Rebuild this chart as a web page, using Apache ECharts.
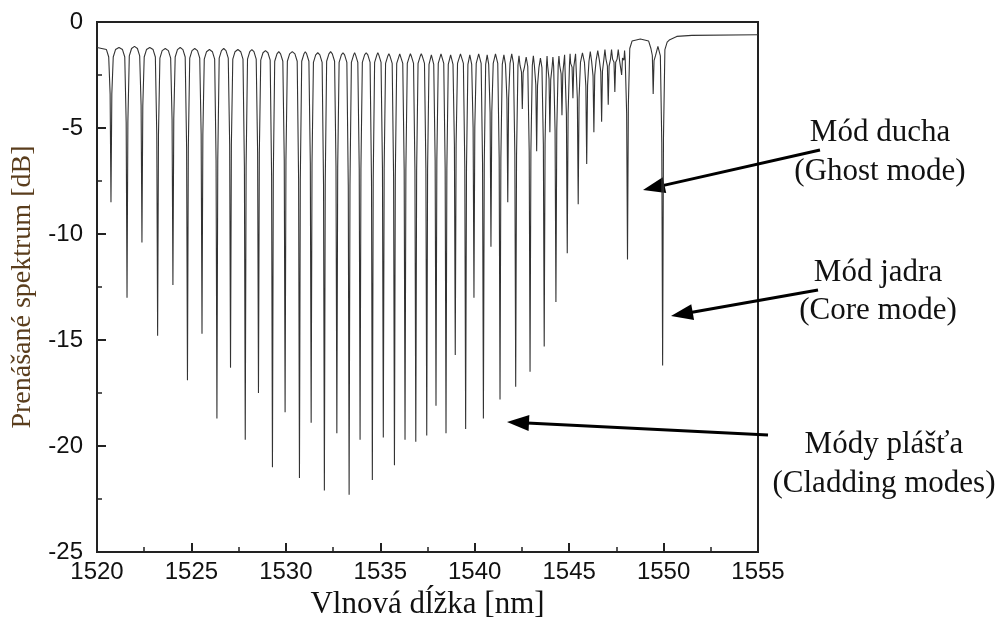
<!DOCTYPE html>
<html>
<head>
<meta charset="utf-8">
<title>Prenášané spektrum</title>
<script src="https://cdn.jsdelivr.net/npm/echarts@6/dist/echarts.min.js"></script>
<style>
  html, body { margin: 0; padding: 0; background: #fff; }
  #chart { width: 1001px; height: 625px; }
</style>
</head>
<body>
<div id="chart"></div>
<script>
// minimá rezonancií: vlnová dĺžka [nm] a hĺbka [dB] (odčítané z obrázka)
const dipNm = [
  1520.74, 1521.59, 1522.38, 1523.21, 1524.02, 1524.79, 1525.56, 1526.35, 1527.07, 1527.85,
  1528.55, 1529.29, 1529.96, 1530.72, 1531.34, 1532.04, 1532.70, 1533.35, 1533.93, 1534.58,
  1535.16, 1535.75, 1536.31, 1536.88, 1537.46, 1537.95, 1538.48, 1538.97, 1539.52, 1539.96,
  1540.46, 1540.86, 1541.34, 1541.75, 1542.17, 1542.52, 1542.93, 1543.28, 1543.68, 1543.98,
  1544.30, 1544.62, 1544.90, 1545.20, 1545.48, 1545.93, 1546.31, 1546.72, 1547.07, 1547.42,
  1547.78, 1548.09, 1549.45, 1549.95
];
const dipDb = [
  -8.5, -13.0, -10.4, -14.8, -12.4, -16.9, -14.7, -18.7, -16.3, -19.7,
  -17.5, -21.0, -18.4, -21.5, -18.9, -22.1, -19.4, -22.3, -19.7, -21.6,
  -19.6, -20.9, -19.7, -19.8, -19.5, -18.1, -19.4, -15.7, -19.2, -13.0,
  -18.7, -10.6, -17.8, -8.5, -17.2, -4.1, -16.5, -6.1, -15.3, -5.2,
  -13.2, -4.4, -10.9, -3.6, -8.6, -6.7, -5.2, -4.7, -3.9, -3.3,
  -2.5, -11.2, -3.4, -16.2
];
// vrcholy medzi minimami [dB]: pred prvým, medzi susednými, za posledným
const crestDb = [
  -1.2, -1.2, -1.15, -1.2, -1.25, -1.2, -1.25, -1.3, -1.25, -1.3,
  -1.3, -1.35, -1.4, -1.4, -1.4, -1.45, -1.4, -1.45, -1.45, -1.45,
  -1.45, -1.5, -1.5, -1.5, -1.5, -1.55, -1.5, -1.55, -1.5, -1.55,
  -1.5, -1.55, -1.5, -1.55, -1.5, -1.6, -1.65, -1.6, -1.7, -1.6,
  -1.65, -1.6, -1.55, -1.5, -1.5, -1.45, -1.4, -1.35, -1.3, -1.3,
  -1.3, -1.35, -0.8, -1.15, -0.85
];
const startNm = 1520;
const endCrestNm = 1550.3;
// plochý koniec spektra
const tailNm = [1550.7, 1551.5, 1555];
const tailDb = [-0.68, -0.63, -0.6];

const xMin = 1520, xMax = 1555, xStep = 5;
const yMin = -25, yMax = 0, yStep = 5;

// tvar boku minima: vzdialenosť od stredu [nm]
const shoulderOff = [0.24, 0.12, 0.045];

function shoulderLevel(k, c, d) {
  if (k === 0) return c - 0.1;
  if (k === 1) return Math.max(c - 0.45, d);
  return c + 0.3 * (d - c);
}

function buildTrace() {
  const pts = [[startNm, crestDb[0]]];
  const n = dipNm.length;
  for (let i = 0; i < n; i++) {
    const x0 = dipNm[i], d = dipDb[i];
    const leftX = i === 0 ? startNm : (dipNm[i - 1] + x0) / 2;
    const rightX = i === n - 1 ? endCrestNm : (x0 + dipNm[i + 1]) / 2;
    const cl = crestDb[i], cr = crestDb[i + 1];
    for (let k = 0; k < shoulderOff.length; k++) {
      if (shoulderOff[k] < 0.85 * (x0 - leftX)) pts.push([x0 - shoulderOff[k], shoulderLevel(k, cl, d)]);
    }
    pts.push([x0, d]);
    for (let k = shoulderOff.length - 1; k >= 0; k--) {
      if (shoulderOff[k] < 0.85 * (rightX - x0)) pts.push([x0 + shoulderOff[k], shoulderLevel(k, cr, d)]);
    }
    pts.push([rightX, cr]);
  }
  tailNm.forEach((x, i) => pts.push([x, tailDb[i]]));
  return pts;
}

// popisky a šípky (pixely)
const notes = [
  { lines: ['Mód ducha', '(Ghost mode)'], x: 880, y: [133, 172], tail: [820, 150], tip: [643, 190] },
  { lines: ['Mód jadra', '(Core mode)'], x: 878, y: [273, 311], tail: [818, 290], tip: [671, 316] },
  { lines: ['Módy plášťa', '(Cladding modes)'], x: 884, y: [445, 484], tail: [768, 435], tip: [507, 422] }
];

function arrow(tail, tip) {
  const dx = tip[0] - tail[0], dy = tip[1] - tail[1];
  const len = Math.sqrt(dx * dx + dy * dy);
  const ux = dx / len, uy = dy / len;
  const hl = 22, hw = 8;
  const bx = tip[0] - ux * hl, by = tip[1] - uy * hl;
  return [
    { type: 'line', shape: { x1: tail[0], y1: tail[1], x2: bx + ux * 2, y2: by + uy * 2 },
      style: { stroke: '#000', lineWidth: 3 } },
    { type: 'polygon', shape: { points: [tip, [bx - uy * hw, by + ux * hw], [bx + uy * hw, by - ux * hw]] },
      style: { fill: '#000' } }
  ];
}

const graphics = [];
notes.forEach(nt => {
  nt.lines.forEach((t, i) => graphics.push({
    type: 'text', x: nt.x, y: nt.y[i],
    style: { text: t, font: '31px "Liberation Serif"', fill: '#111', align: 'center', verticalAlign: 'middle' }
  }));
  arrow(nt.tail, nt.tip).forEach(g => graphics.push(g));
});

const chart = echarts.init(document.getElementById('chart'));
const axisColor = '#222';
chart.setOption({
  animation: false,
  backgroundColor: '#fff',
  grid: { left: 97, right: 243, top: 22, bottom: 72, show: true, borderColor: axisColor, borderWidth: 2, backgroundColor: 'transparent' },
  xAxis: {
    type: 'value', min: xMin, max: xMax, interval: xStep,
    name: 'Vlnová dĺžka [nm]', nameLocation: 'middle', nameGap: 34,
    nameTextStyle: { fontFamily: 'Liberation Serif', fontSize: 31, color: '#111' },
    axisLine: { onZero: false, lineStyle: { color: axisColor, width: 2 } },
    axisTick: { inside: true, length: 9, lineStyle: { color: axisColor, width: 2 } },
    minorTick: { show: true, splitNumber: 2, length: 5, lineStyle: { color: axisColor, width: 1.5 } },
    splitLine: { show: false },
    axisLabel: { fontFamily: 'Liberation Sans', fontSize: 24, color: '#111', margin: 8, formatter: v => String(v) }
  },
  yAxis: {
    type: 'value', min: yMin, max: yMax, interval: yStep,
    name: 'Prenášané spektrum [dB]', nameLocation: 'middle', nameGap: 60,
    nameTextStyle: { fontFamily: 'Liberation Serif', fontSize: 28, color: '#5a3d1c' },
    axisLine: { onZero: false, lineStyle: { color: axisColor, width: 2 } },
    axisTick: { inside: true, length: 9, lineStyle: { color: axisColor, width: 2 } },
    minorTick: { show: true, splitNumber: 2, length: 5, lineStyle: { color: axisColor, width: 1.5 } },
    splitLine: { show: false },
    axisLabel: { fontFamily: 'Liberation Sans', fontSize: 24, color: '#111', margin: 14 }
  },
  series: [{
    type: 'line',
    data: buildTrace(),
    showSymbol: false,
    lineStyle: { color: '#333', width: 1.1 },
    clip: true
  }],
  graphic: graphics
});
</script>
</body>
</html>
